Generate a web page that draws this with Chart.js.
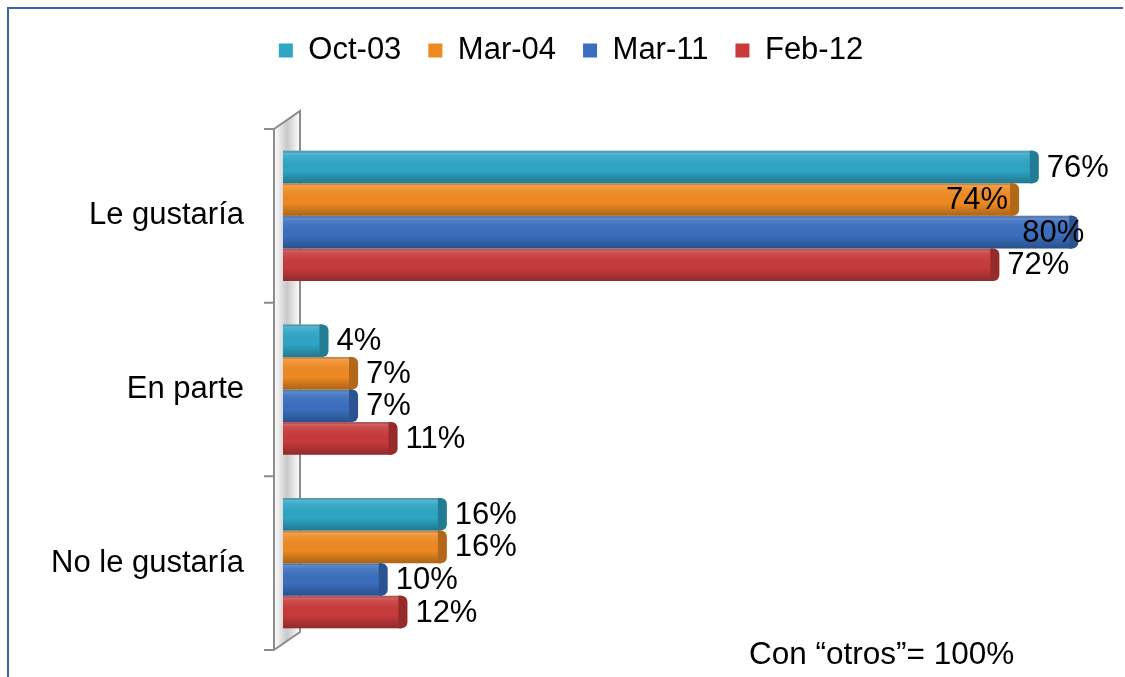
<!DOCTYPE html>
<html>
<head>
<meta charset="utf-8">
<script src="https://cdn.jsdelivr.net/npm/chart.js@4.4.1/dist/chart.umd.min.js"></script>
<style>
    html, body { margin: 0; padding: 0; background: #fff; }
    #wrap { position: relative; width: 1125px; height: 677px; overflow: hidden; }
    #frame {
        position: absolute; left: 7px; top: 7px; width: 1114px; height: 700px;
        border-top: 2px solid #3d62a6; border-left: 2px solid #3d62a6;
        pointer-events: none;
    }
</style>
</head>
<body>
<div id="wrap">
    <canvas id="myChart" width="1125" height="677"></canvas>
    <div id="frame"></div>
</div>
<script>
// data
var categories = ['Le gustaría', 'En parte', 'No le gustaría'];
var series_names = ['Oct-03', 'Mar-04', 'Mar-11', 'Feb-12'];
var oct03 = [76, 4, 16];
var mar04 = [74, 7, 16];
var mar11 = [80, 7, 10];
var feb12 = [72, 11, 12];
var note_text = 'Con \u201cotros\u201d= 100%';

var colors = ['#2ea6c6', '#ef8a22', '#3a6fbf', '#c83a3b'];
var font_name = '"Liberation Sans", Arial, sans-serif';

// extra room under the legend, and move it a bit to the right
var legend_space = {
    id: 'legend_space',
    beforeLayout: function (chart) {
        var lg = chart.legend;
        if (lg && !lg._patched) {
            var fit = lg.fit;
            lg.fit = function () {
                fit.call(this);
                this.height += 53;
            };
            lg._patched = true;
        }
    },
    afterLayout: function (chart) {
        var lg = chart.legend;
        if (lg) {
            lg.left += 25;
            lg.right += 25;
        }
    }
};

// the 3d wall on the left of the bars
var wall = {
    id: 'wall',
    beforeDatasetsDraw: function (chart) {
        var ctx = chart.ctx, a = chart.chartArea;
        var x1 = a.left - 9, x2 = a.left + 17, d = 18;
        ctx.save();
        var g = ctx.createLinearGradient(x1, 0, x2, 0);
        g.addColorStop(0, '#ffffff');
        g.addColorStop(0.5, '#c8c8c8');
        g.addColorStop(1, '#ffffff');
        ctx.fillStyle = g;
        ctx.beginPath();
        ctx.moveTo(x1, a.top);
        ctx.lineTo(x2, a.top - d);
        ctx.lineTo(x2, a.bottom - d);
        ctx.lineTo(x1, a.bottom);
        ctx.closePath();
        ctx.fill();
        ctx.strokeStyle = '#8c8c8c';
        ctx.lineWidth = 2;
        ctx.beginPath();
        ctx.moveTo(x1, a.bottom);
        ctx.lineTo(x1, a.top);
        ctx.lineTo(x2, a.top - d);
        ctx.lineTo(x2, a.bottom - d);
        ctx.lineTo(x1, a.bottom);
        // tick marks between categories
        var n = categories.length;
        for (var i = 0; i <= n; i++) {
            var ty = a.top + (a.bottom - a.top) * i / n;
            ctx.moveTo(x1 - 10, ty);
            ctx.lineTo(x1, ty);
        }
        ctx.stroke();
        ctx.restore();
    }
};

// shading and end caps so the bars look like the 3d ones
var bar_shade = {
    id: 'bar_shade',
    afterDatasetsDraw: function (chart) {
        var ctx = chart.ctx;
        ctx.save();
        chart.data.datasets.forEach(function (ds, di) {
            chart.getDatasetMeta(di).data.forEach(function (el) {
                var p = el.getProps(['x', 'y', 'base', 'height'], true);
                var top = p.y - p.height / 2, h = p.height;
                var g = ctx.createLinearGradient(0, top, 0, top + h);
                g.addColorStop(0, 'rgba(255,255,255,0.30)');
                g.addColorStop(0.15, 'rgba(255,255,255,0.10)');
                g.addColorStop(0.6, 'rgba(0,0,0,0.0)');
                g.addColorStop(1, 'rgba(0,0,0,0.28)');
                ctx.fillStyle = g;
                ctx.fillRect(p.base, top, p.x - p.base, h);
                // thin top edge
                ctx.fillStyle = 'rgba(0,0,0,0.18)';
                ctx.fillRect(p.base, top, p.x - p.base, 2);
                // rounded end cap
                ctx.fillStyle = colors[di];
                ctx.beginPath();
                ctx.roundRect(p.x - 3, top, 9, h, [0, 6, 6, 0]);
                ctx.fill();
                ctx.fillStyle = 'rgba(0,0,0,0.25)';
                ctx.fill();
            });
        });
        ctx.restore();
    }
};

// value labels next to the bars
var value_labels = {
    id: 'value_labels',
    afterDatasetsDraw: function (chart, args, opts) {
        var ctx = chart.ctx;
        ctx.save();
        ctx.font = '31px ' + font_name;
        ctx.fillStyle = '#000';
        ctx.textBaseline = 'middle';
        chart.data.datasets.forEach(function (ds, di) {
            chart.getDatasetMeta(di).data.forEach(function (el, i) {
                var adj = opts.adjust[di + ',' + i];
                ctx.textAlign = adj ? adj[0] : 'left';
                var dx = adj ? adj[1] : 14;
                ctx.fillText(ds.data[i] + '%', el.x + dx, el.y + 1);
            });
        });
        ctx.restore();
    }
};

// note at the bottom right
var note = {
    id: 'note',
    afterDraw: function (chart) {
        var ctx = chart.ctx;
        ctx.save();
        ctx.font = '31.5px ' + font_name;
        ctx.fillStyle = '#000';
        ctx.textAlign = 'left';
        ctx.textBaseline = 'middle';
        ctx.fillText(note_text, 749, 655);
        ctx.restore();
    }
};

var all_values = [oct03, mar04, mar11, feb12];

new Chart('myChart', {
    type: 'bar',
    data: {
        labels: categories,
        datasets: series_names.map(function (name, i) {
            return {
                label: name,
                data: all_values[i],
                backgroundColor: colors[i],
                borderWidth: 0,
                barPercentage: 1.0,
                categoryPercentage: 0.75
            };
        })
    },
    options: {
        indexAxis: 'y',
        responsive: false,
        animation: false,
        layout: {
            padding: { top: 8, right: 33, bottom: 27, left: 0 }
        },
        scales: {
            x: {
                display: false,
                min: 0,
                max: 82
            },
            y: {
                grid: { display: false },
                border: { display: false },
                ticks: {
                    color: '#000',
                    padding: 31,
                    font: { family: font_name, size: 31 }
                },
                afterFit: function (scale) {
                    scale.width = 283;
                    scale.paddingTop = 0;
                    scale.paddingBottom = 0;
                }
            }
        },
        plugins: {
            legend: {
                position: 'top',
                labels: {
                    color: '#000',
                    boxWidth: 14,
                    boxHeight: 14,
                    padding: 27,
                    font: { family: font_name, size: 31 }
                }
            },
            tooltip: { enabled: false },
            value_labels: {
                adjust: { '1,0': ['right', -5], '2,0': ['right', 12] }
            }
        }
    },
    plugins: [legend_space, wall, bar_shade, value_labels, note]
});
</script>
</body>
</html>
